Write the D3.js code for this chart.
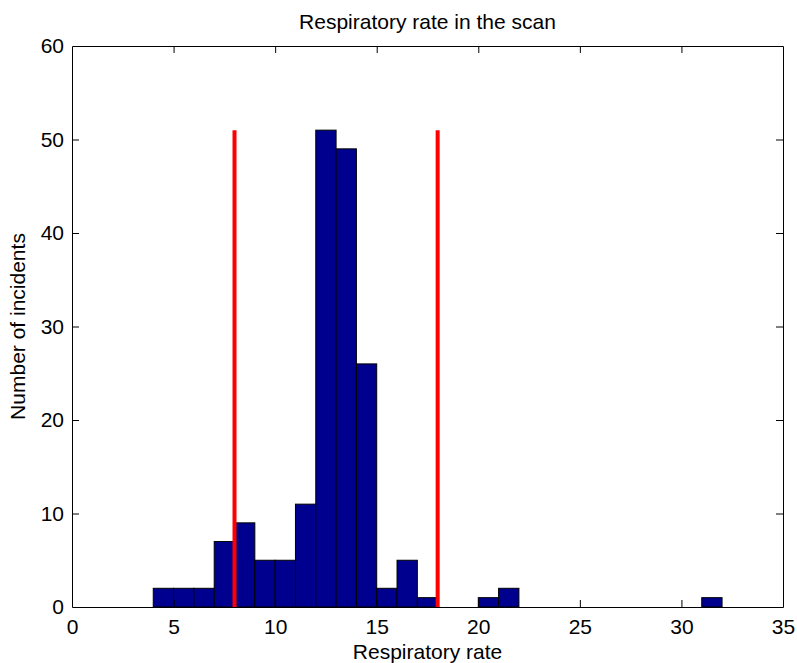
<!DOCTYPE html>
<html>
<head>
<meta charset="utf-8">
<script src="https://cdn.jsdelivr.net/npm/d3@7"></script>
<style>
  body { margin: 0; background: #fff; }
  text { font-family: "Liberation Sans", Arial, Helvetica, sans-serif; fill: #000; }
</style>
</head>
<body>
<div id="container"></div>
<script>
// histogram data: bin left edges (width 1) and counts
let binStarts = [4, 5, 6, 7, 8, 9, 10, 11, 12, 13, 14, 15, 16, 17, 18, 19, 20, 21, 22, 23, 24, 25, 26, 27, 28, 29, 30, 31];
let counts    = [2, 2, 2, 7, 9, 5, 5, 11, 51, 49, 26, 2, 5, 1, 0, 0, 1, 2, 0, 0, 0, 0, 0, 0, 0, 0, 0, 1];
let binWidth = 1;

// red limit lines
let limitX = [8, 18];
let limitHeight = 51;

let xTicks = [0, 5, 10, 15, 20, 25, 30, 35];
let yTicks = [0, 10, 20, 30, 40, 50, 60];

let title = "Respiratory rate in the scan";
let xLabel = "Respiratory rate";
let yLabel = "Number of incidents";

let w = 797;
let h = 663;
// plot box (names avoid window.top clash)
let padL = 72, padR = 783, padT = 46, padB = 607;
let fontSize = 21;
let tickLen = 7;

let data = binStarts.map(function(d, i){ return {x0: d, x1: d + binWidth, value: counts[i]}; });

let viz = d3.select("#container")
  .append("svg")
    .attr("width", w)
    .attr("height", h)
;

let xScale = d3.scaleLinear().domain([0, 35]).range([padL, padR]);
let yScale = d3.scaleLinear().domain([0, 60]).range([padB, padT]);

// bars
viz.append("g").classed("bars", true)
  .selectAll("rect")
  .data(data)
  .enter()
  .append("rect")
    .attr("x", d => xScale(d.x0))
    .attr("y", d => yScale(d.value))
    .attr("width", d => xScale(d.x1) - xScale(d.x0))
    .attr("height", d => yScale(0) - yScale(d.value))
    .attr("fill", "rgb(0,0,143)")
    .attr("stroke", "#000")
    .attr("stroke-width", 1)
;

// red lines
viz.append("g").classed("limits", true)
  .selectAll("line")
  .data(limitX)
  .enter()
  .append("line")
    .attr("x1", d => xScale(d))
    .attr("x2", d => xScale(d))
    .attr("y1", yScale(0))
    .attr("y2", yScale(limitHeight))
    .attr("stroke", "#ff0000")
    .attr("stroke-width", 4)
;

// axes (matlab style: ticks inside, on all four sides)
let xAxisBottom = d3.axisBottom(xScale).tickValues(xTicks).tickSizeInner(-tickLen).tickSizeOuter(0).tickPadding(12);
let xAxisTop = d3.axisTop(xScale).tickValues(xTicks).tickSizeInner(-tickLen).tickSizeOuter(0).tickFormat("");
let yAxisLeft = d3.axisLeft(yScale).tickValues(yTicks).tickSizeInner(-tickLen).tickSizeOuter(0).tickPadding(8);
let yAxisRight = d3.axisRight(yScale).tickValues(yTicks).tickSizeInner(-tickLen).tickSizeOuter(0).tickFormat("");

function styleAxis(g){
  g.selectAll("path").attr("stroke", "#000").attr("stroke-width", 1);
  g.selectAll("line").attr("stroke", "#000").attr("stroke-width", 1);
  g.selectAll("text").attr("font-size", fontSize).attr("font-family", null).attr("fill", "#000");
}

let gxb = viz.append("g").attr("transform", "translate(0," + padB + ")").call(xAxisBottom);
styleAxis(gxb);
let gxt = viz.append("g").attr("transform", "translate(0," + padT + ")").call(xAxisTop);
styleAxis(gxt);
let gyl = viz.append("g").attr("transform", "translate(" + padL + ",0)").call(yAxisLeft);
styleAxis(gyl);
let gyr = viz.append("g").attr("transform", "translate(" + padR + ",0)").call(yAxisRight);
styleAxis(gyr);

// remove tick lines at the very ends so the frame stays clean
[gxb, gxt].forEach(g => g.selectAll(".tick").filter(d => d === 0 || d === 35).select("line").remove());
[gyl, gyr].forEach(g => g.selectAll(".tick").filter(d => d === 0 || d === 60).select("line").remove());

// labels
viz.append("text")
  .attr("x", (padL + padR) / 2)
  .attr("y", 29)
  .attr("text-anchor", "middle")
  .attr("font-size", fontSize)
  .text(title);

viz.append("text")
  .attr("x", (padL + padR) / 2)
  .attr("y", 659)
  .attr("text-anchor", "middle")
  .attr("font-size", fontSize)
  .text(xLabel);

viz.append("text")
  .attr("transform", "translate(25," + ((padT + padB) / 2) + ") rotate(-90)")
  .attr("text-anchor", "middle")
  .attr("font-size", fontSize)
  .text(yLabel);
</script>
</body>
</html>
